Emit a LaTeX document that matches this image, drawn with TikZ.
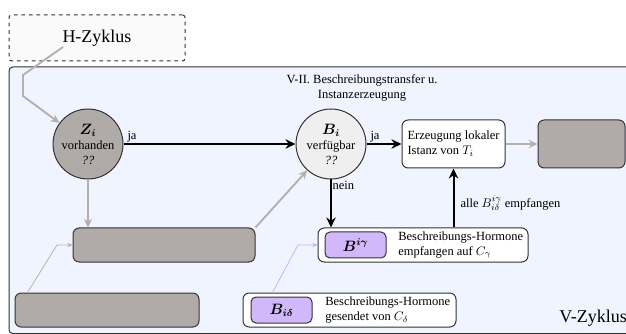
\documentclass[tikz,border=0pt]{standalone}
\usepackage{amsmath,amssymb,bm}
\usepackage{fontspec}
\setmainfont{Liberation Serif}
\usetikzlibrary{arrows.meta,positioning}
\definecolor{frameblue}{HTML}{F0F4FE}
\definecolor{boxgray}{HTML}{B0AAA9}
\definecolor{circlight}{HTML}{EFEFEF}
\definecolor{hormone}{HTML}{D0B8FA}
\definecolor{hormoneline}{HTML}{C6AEFA}
\definecolor{arrowgray}{HTML}{B5AFAF}
\definecolor{edge}{HTML}{333333}
\tikzset{
  px/.style={x=0.8pt,y=-0.8pt},
  roundbox/.style={draw=edge,line width=0.8pt,rounded corners=5pt,inner sep=0pt},
  graybox/.style={roundbox,fill=boxgray},
  whitebox/.style={roundbox,fill=white},
  hbox/.style={draw=edge,line width=0.8pt,rounded corners=4pt,fill=hormone,inner sep=0pt,
    minimum width=48.8pt,minimum height=20.8pt,font=\large},
  decision/.style={circle,draw=edge,line width=0.8pt,minimum size=56pt,inner sep=0pt,align=center},
  mainflow/.style={line width=1.6pt,-{Stealth[length=8pt,width=7.5pt]}},
  grayflow/.style={draw=arrowgray,line width=1.5pt,-{Stealth[length=7pt,width=6.5pt]}},
  thinflow/.style={line width=0.6pt,-{Stealth[length=4pt,width=3.5pt]}},
  lbl/.style={inner sep=1pt,font=\normalsize},
}
\begin{document}
\begin{tikzpicture}[px]
\useasboundingbox (0,0) rectangle (626,334);
% frames
\node[draw=edge,dashed,line width=0.8pt,fill=white!98!black,rounded corners=2pt,
  minimum width=140.8pt,minimum height=36.8pt,inner sep=0pt,font=\Large] (H) at (97,38) {H-Zyklus};
\draw[draw=edge,line width=0.8pt,fill=frameblue,rounded corners=3pt] (9,67) rectangle (660,333.5);
\node[anchor=east,font=\Large,inner sep=0pt] (V) at (627,318) {V-Zyklus};
\node[align=center,inner sep=0pt] (title) at (362,88) {V-II. Beschreibungstransfer u.\\Instanzerzeugung};

% decisions
\node[decision,fill=boxgray] (Z) at (88,144) {{\large$\bm{Z_i}$}\\vorhanden\\\textit{??}};
\node[decision,fill=circlight] (B) at (331,144) {{\large$\bm{B_i}$}\\verfügbar\\\textit{??}};

% boxes
\node[whitebox,minimum width=82.4pt,minimum height=38.4pt,align=left] (E) at (453.5,144)
  {Erzeugung lokaler\\Istanz von $T_i$};
\node[graybox,minimum width=69.6pt,minimum height=38.4pt] (G) at (581.5,144) {};
\node[graybox,minimum width=145.6pt,minimum height=27.2pt] (P1) at (164,245) {};
\node[graybox,minimum width=147.2pt,minimum height=27.2pt] (P2) at (107,310) {};

% hormone boxes
\node[whitebox,minimum width=168pt,minimum height=27.2pt] (Bg) at (423,245) {};
\node[hbox] (Bgi) at (355.5,245) {$\bm{B^{i\gamma}}$};
\node[anchor=west,align=left,inner sep=0pt] (Bgt) at (398,245) {Beschreibungs-Hormone\\empfangen auf $C_\gamma$};
\node[whitebox,minimum width=170.4pt,minimum height=27.2pt] (Bd) at (349.5,310) {};
\node[hbox] (Bdi) at (281.5,310) {$\bm{B_{i\delta}}$};
\node[anchor=west,align=left,inner sep=0pt] (Bdt) at (325,310) {Beschreibungs-Hormone\\gesendet von $C_\delta$};

% main flow
\draw[mainflow] (Z) -- (B);
\node[lbl,anchor=south west] (ja1) at ([xshift=2pt]Z.east) {ja};
\draw[mainflow] (B) -- (E);
\node[lbl,anchor=south west] (ja2) at ([xshift=2pt]B.east) {ja};
\draw[mainflow] (B.south) -- (B.south |- Bg.north);
\node[lbl,anchor=north west] (nein) at (B.south) {nein};
\draw[mainflow] (E.south |- Bg.north) -- (E.south);
\node[lbl,anchor=west] (alle) at (459,203) {alle $B^{i\gamma}_{i\delta}$ empfangen};

% gray flow
\coordinate (hs) at (63,47);
\draw[grayflow] (hs) -- (23,75) -- (23,96) -- (Z);
\draw[grayflow] (Z.south) -- (Z.south |- P1.north);
\draw[grayflow] (P1.north east) -- (B);
\draw[grayflow] (E) -- (G);

% thin links
\draw[thinflow,draw=arrowgray] ([xshift=10.4pt]P2.north west) -- (57,245) -- (P1.west);
\draw[thinflow,draw=hormoneline] ([xshift=24pt]Bd.north west) -- (298,245) -- (Bg.west);
\end{tikzpicture}
\end{document}
